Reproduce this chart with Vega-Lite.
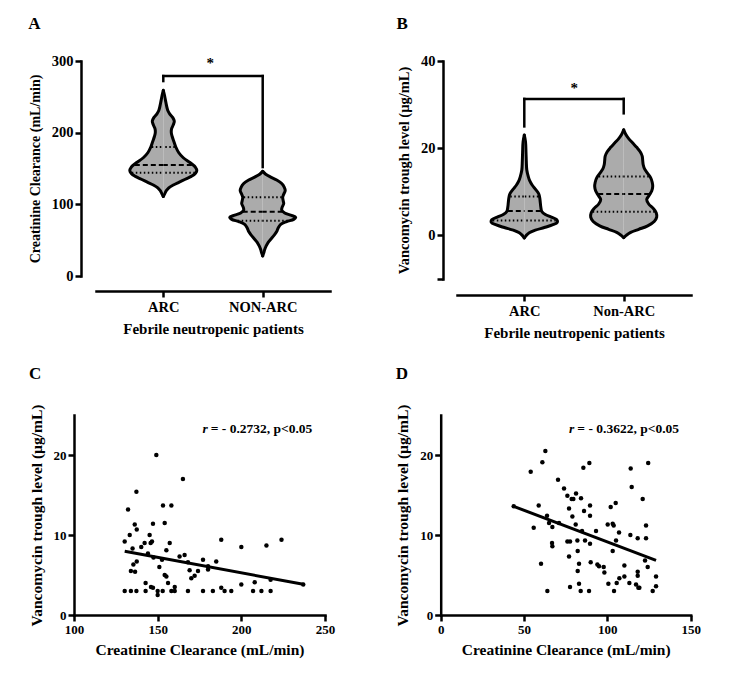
{
  "$schema": "https://vega.github.io/schema/vega-lite/v6.json",
  "padding": {"left": 28, "top": 15, "right": 5, "bottom": 5},
  "config": {
    "font": "Liberation Serif",
    "view": {"stroke": null},
    "title": {"font": "Liberation Serif", "fontSize": 17, "fontWeight": "bold", "anchor": "start", "frame": "bounds", "offset": 20, "color": "black"},
    "axis": {"domainColor": "black", "domainWidth": 2.5, "domainCap": "square", "tickColor": "black", "tickWidth": 2.5, "tickSize": 6, "labelColor": "black", "labelFont": "Liberation Serif", "labelFontSize": 14.5, "labelFontWeight": "bold", "labelPadding": 2, "titleColor": "black", "titleFont": "Liberation Serif", "titleFontSize": 14.5, "titleFontWeight": "bold", "grid": false, "labelFlush": false, "labelOverlap": false}
  },
  "datasets": {
    "violins": [
      {"panel":"A","group":"ARC","value":259,"density":0},
      {"panel":"A","group":"ARC","value":252,"density":0.12},
      {"panel":"A","group":"ARC","value":245,"density":0.22},
      {"panel":"A","group":"ARC","value":238,"density":0.32},
      {"panel":"A","group":"ARC","value":231,"density":0.45},
      {"panel":"A","group":"ARC","value":226,"density":0.65},
      {"panel":"A","group":"ARC","value":221,"density":0.95},
      {"panel":"A","group":"ARC","value":216,"density":1.1},
      {"panel":"A","group":"ARC","value":211,"density":1.0},
      {"panel":"A","group":"ARC","value":205,"density":0.82},
      {"panel":"A","group":"ARC","value":200,"density":0.8},
      {"panel":"A","group":"ARC","value":195,"density":0.88},
      {"panel":"A","group":"ARC","value":188,"density":1.05},
      {"panel":"A","group":"ARC","value":180,"density":1.25},
      {"panel":"A","group":"ARC","value":172,"density":1.55},
      {"panel":"A","group":"ARC","value":165,"density":2.0},
      {"panel":"A","group":"ARC","value":158,"density":2.7},
      {"panel":"A","group":"ARC","value":152,"density":3.2},
      {"panel":"A","group":"ARC","value":147,"density":3.35},
      {"panel":"A","group":"ARC","value":143,"density":3.2},
      {"panel":"A","group":"ARC","value":139,"density":2.8},
      {"panel":"A","group":"ARC","value":135,"density":2.2},
      {"panel":"A","group":"ARC","value":131,"density":1.6},
      {"panel":"A","group":"ARC","value":127,"density":1.0},
      {"panel":"A","group":"ARC","value":123,"density":0.55},
      {"panel":"A","group":"ARC","value":119,"density":0.3},
      {"panel":"A","group":"ARC","value":115,"density":0.15},
      {"panel":"A","group":"ARC","value":111,"density":0},
      {"panel":"A","group":"NON","value":146,"density":0},
      {"panel":"A","group":"NON","value":142,"density":0.3},
      {"panel":"A","group":"NON","value":138,"density":0.8},
      {"panel":"A","group":"NON","value":134,"density":1.4},
      {"panel":"A","group":"NON","value":129,"density":1.9},
      {"panel":"A","group":"NON","value":124,"density":2.15},
      {"panel":"A","group":"NON","value":119,"density":2.25},
      {"panel":"A","group":"NON","value":114,"density":2.1},
      {"panel":"A","group":"NON","value":110,"density":2.0},
      {"panel":"A","group":"NON","value":105,"density":2.05},
      {"panel":"A","group":"NON","value":101,"density":2.1},
      {"panel":"A","group":"NON","value":96,"density":1.95},
      {"panel":"A","group":"NON","value":92,"density":1.9},
      {"panel":"A","group":"NON","value":88,"density":2.2},
      {"panel":"A","group":"NON","value":85,"density":2.8},
      {"panel":"A","group":"NON","value":82,"density":3.3},
      {"panel":"A","group":"NON","value":79,"density":3.1},
      {"panel":"A","group":"NON","value":76,"density":2.4},
      {"panel":"A","group":"NON","value":72,"density":1.8},
      {"panel":"A","group":"NON","value":67,"density":1.55},
      {"panel":"A","group":"NON","value":62,"density":1.4},
      {"panel":"A","group":"NON","value":57,"density":1.15},
      {"panel":"A","group":"NON","value":52,"density":0.85},
      {"panel":"A","group":"NON","value":47,"density":0.55},
      {"panel":"A","group":"NON","value":42,"density":0.35},
      {"panel":"A","group":"NON","value":37,"density":0.2},
      {"panel":"A","group":"NON","value":32,"density":0.1},
      {"panel":"A","group":"NON","value":28,"density":0},
      {"panel":"B","group":"ARC","value":23,"density":0},
      {"panel":"B","group":"ARC","value":21.5,"density":0.12},
      {"panel":"B","group":"ARC","value":19,"density":0.17},
      {"panel":"B","group":"ARC","value":17,"density":0.2},
      {"panel":"B","group":"ARC","value":15,"density":0.25},
      {"panel":"B","group":"ARC","value":13.5,"density":0.4},
      {"panel":"B","group":"ARC","value":12.5,"density":0.55},
      {"panel":"B","group":"ARC","value":11.5,"density":0.8},
      {"panel":"B","group":"ARC","value":10.5,"density":1.15},
      {"panel":"B","group":"ARC","value":9.5,"density":1.45},
      {"panel":"B","group":"ARC","value":8.5,"density":1.55},
      {"panel":"B","group":"ARC","value":7.5,"density":1.6},
      {"panel":"B","group":"ARC","value":6.5,"density":1.65},
      {"panel":"B","group":"ARC","value":5.5,"density":1.75},
      {"panel":"B","group":"ARC","value":4.8,"density":2.1},
      {"panel":"B","group":"ARC","value":4.2,"density":2.7},
      {"panel":"B","group":"ARC","value":3.6,"density":3.25},
      {"panel":"B","group":"ARC","value":3.0,"density":3.3},
      {"panel":"B","group":"ARC","value":2.4,"density":2.8},
      {"panel":"B","group":"ARC","value":1.8,"density":2.0},
      {"panel":"B","group":"ARC","value":1.2,"density":1.1},
      {"panel":"B","group":"ARC","value":0.6,"density":0.5},
      {"panel":"B","group":"ARC","value":0,"density":0.2},
      {"panel":"B","group":"ARC","value":-0.6,"density":0},
      {"panel":"B","group":"NON","value":24.2,"density":0},
      {"panel":"B","group":"NON","value":23.2,"density":0.2},
      {"panel":"B","group":"NON","value":22.2,"density":0.5},
      {"panel":"B","group":"NON","value":21.2,"density":0.9},
      {"panel":"B","group":"NON","value":20.2,"density":1.3},
      {"panel":"B","group":"NON","value":19.2,"density":1.65},
      {"panel":"B","group":"NON","value":18.2,"density":1.85},
      {"panel":"B","group":"NON","value":17.2,"density":1.9},
      {"panel":"B","group":"NON","value":16.2,"density":1.95},
      {"panel":"B","group":"NON","value":15.2,"density":2.1},
      {"panel":"B","group":"NON","value":14.2,"density":2.4},
      {"panel":"B","group":"NON","value":13.2,"density":2.7},
      {"panel":"B","group":"NON","value":12.2,"density":2.85},
      {"panel":"B","group":"NON","value":11.2,"density":2.9},
      {"panel":"B","group":"NON","value":10.2,"density":2.8},
      {"panel":"B","group":"NON","value":9.2,"density":2.55},
      {"panel":"B","group":"NON","value":8.2,"density":2.3},
      {"panel":"B","group":"NON","value":7.2,"density":2.5},
      {"panel":"B","group":"NON","value":6.2,"density":2.95},
      {"panel":"B","group":"NON","value":5.2,"density":3.25},
      {"panel":"B","group":"NON","value":4.2,"density":3.3},
      {"panel":"B","group":"NON","value":3.2,"density":3.05},
      {"panel":"B","group":"NON","value":2.2,"density":2.4},
      {"panel":"B","group":"NON","value":1.4,"density":1.5},
      {"panel":"B","group":"NON","value":0.7,"density":0.7},
      {"panel":"B","group":"NON","value":0,"density":0.25},
      {"panel":"B","group":"NON","value":-0.5,"density":0}
    ],
    "quartiles": [
      {"panel":"A","group":"ARC","stat":"quartile","value":180,"density":1.15},
      {"panel":"A","group":"ARC","stat":"median","value":155,"density":2.85},
      {"panel":"A","group":"ARC","stat":"quartile","value":144,"density":3.15},
      {"panel":"A","group":"NON","stat":"quartile","value":110,"density":1.9},
      {"panel":"A","group":"NON","stat":"median","value":89.5,"density":2.0},
      {"panel":"A","group":"NON","stat":"quartile","value":77,"density":2.5},
      {"panel":"B","group":"ARC","stat":"quartile","value":8.9,"density":1.4},
      {"panel":"B","group":"ARC","stat":"median","value":5.6,"density":1.65},
      {"panel":"B","group":"ARC","stat":"quartile","value":3.4,"density":3.15},
      {"panel":"B","group":"NON","stat":"quartile","value":13.5,"density":2.5},
      {"panel":"B","group":"NON","stat":"median","value":9.5,"density":2.55},
      {"panel":"B","group":"NON","stat":"quartile","value":5.4,"density":3.1}
    ],
    "arc_points": [
      {"crcl":130.3,"vanco":9.2},{"crcl":132.3,"vanco":13.2},{"crcl":133.3,"vanco":10.0},{"crcl":130.3,"vanco":3.0},
      {"crcl":134,"vanco":3.0},{"crcl":137.3,"vanco":3.0},{"crcl":137.3,"vanco":15.4},{"crcl":136.3,"vanco":11.3},
      {"crcl":137.5,"vanco":10.7},{"crcl":135,"vanco":8.3},{"crcl":135.5,"vanco":6.3},{"crcl":137.5,"vanco":6.7},
      {"crcl":134,"vanco":5.5},{"crcl":136.5,"vanco":5.4},{"crcl":140.2,"vanco":8.5},{"crcl":142.2,"vanco":9.0},
      {"crcl":144.2,"vanco":7.7},{"crcl":145.2,"vanco":10.0},{"crcl":145.8,"vanco":9.0},{"crcl":146.6,"vanco":9.2},
      {"crcl":147.2,"vanco":11.4},{"crcl":149.2,"vanco":20.0},{"crcl":142.8,"vanco":4.0},{"crcl":142.8,"vanco":3.0},
      {"crcl":146,"vanco":3.5},{"crcl":147.2,"vanco":3.4},{"crcl":150,"vanco":3.0},{"crcl":150,"vanco":2.5},
      {"crcl":153,"vanco":3.0},{"crcl":153.2,"vanco":13.7},{"crcl":154.2,"vanco":11.5},{"crcl":155.2,"vanco":8.1},
      {"crcl":157.2,"vanco":9.0},{"crcl":158.2,"vanco":13.7},{"crcl":151,"vanco":6.0},{"crcl":152.6,"vanco":6.9},
      {"crcl":154.2,"vanco":5.0},{"crcl":155.2,"vanco":4.8},{"crcl":156.2,"vanco":4.0},{"crcl":158.2,"vanco":3.0},
      {"crcl":160.2,"vanco":3.0},{"crcl":160.2,"vanco":3.5},{"crcl":165.1,"vanco":17.0},{"crcl":163.1,"vanco":7.3},
      {"crcl":166.1,"vanco":7.5},{"crcl":168.1,"vanco":6.6},{"crcl":169.1,"vanco":5.6},{"crcl":170.1,"vanco":4.6},
      {"crcl":172.1,"vanco":4.9},{"crcl":174.1,"vanco":5.5},{"crcl":168.1,"vanco":3.0},{"crcl":177.1,"vanco":6.9},
      {"crcl":177.1,"vanco":3.0},{"crcl":180.1,"vanco":6.1},{"crcl":180.1,"vanco":5.7},{"crcl":183,"vanco":3.0},
      {"crcl":185,"vanco":6.7},{"crcl":188,"vanco":9.4},{"crcl":188,"vanco":3.4},{"crcl":190,"vanco":3.0},
      {"crcl":194,"vanco":3.0},{"crcl":200,"vanco":8.5},{"crcl":200,"vanco":3.8},{"crcl":208,"vanco":4.1},
      {"crcl":207,"vanco":3.0},{"crcl":212,"vanco":3.0},{"crcl":215,"vanco":8.7},{"crcl":217.5,"vanco":4.4},
      {"crcl":217.5,"vanco":3.0},{"crcl":224,"vanco":9.4},{"crcl":237,"vanco":3.8},{"crcl":147.5,"vanco":7.2}
    ],
    "nonarc_points": [
      {"crcl":43.8,"vanco":13.6},{"crcl":54,"vanco":17.9},{"crcl":55.8,"vanco":10.9},{"crcl":58.8,"vanco":13.7},
      {"crcl":60.2,"vanco":6.4},{"crcl":61,"vanco":19.1},{"crcl":62.8,"vanco":20.5},{"crcl":63.8,"vanco":12.4},
      {"crcl":65,"vanco":11.5},{"crcl":64,"vanco":3.0},{"crcl":67,"vanco":11.0},{"crcl":66.8,"vanco":9.0},
      {"crcl":67,"vanco":8.6},{"crcl":70.4,"vanco":16.9},{"crcl":71,"vanco":11.5},{"crcl":74,"vanco":15.8},
      {"crcl":76,"vanco":14.9},{"crcl":77,"vanco":13.3},{"crcl":76,"vanco":9.2},{"crcl":77.6,"vanco":9.2},
      {"crcl":77,"vanco":7.3},{"crcl":77.6,"vanco":3.5},{"crcl":79,"vanco":12.3},{"crcl":78.6,"vanco":14.5},
      {"crcl":79.6,"vanco":14.5},{"crcl":81.2,"vanco":15.2},{"crcl":81,"vanco":11.3},{"crcl":82,"vanco":9.3},
      {"crcl":82.2,"vanco":8.0},{"crcl":82.2,"vanco":5.5},{"crcl":83,"vanco":6.4},{"crcl":83,"vanco":3.9},
      {"crcl":84.2,"vanco":14.6},{"crcl":84,"vanco":3.0},{"crcl":84.8,"vanco":10.5},{"crcl":85.6,"vanco":18.4},
      {"crcl":86,"vanco":13.0},{"crcl":86.6,"vanco":9.3},{"crcl":89.2,"vanco":19.0},{"crcl":89.6,"vanco":13.7},
      {"crcl":89.6,"vanco":12.4},{"crcl":89.6,"vanco":8.9},{"crcl":89,"vanco":3.0},{"crcl":90,"vanco":6.6},
      {"crcl":93.2,"vanco":10.5},{"crcl":94,"vanco":6.3},{"crcl":95,"vanco":6.1},{"crcl":97.8,"vanco":6.0},
      {"crcl":98.2,"vanco":5.3},{"crcl":100.2,"vanco":11.3},{"crcl":100.6,"vanco":3.9},{"crcl":102,"vanco":13.5},
      {"crcl":103.2,"vanco":11.4},{"crcl":103.8,"vanco":11.2},{"crcl":103.2,"vanco":8.0},{"crcl":104,"vanco":3.0},
      {"crcl":105,"vanco":14.0},{"crcl":105.2,"vanco":9.3},{"crcl":105.6,"vanco":4.0},{"crcl":107,"vanco":10.3},
      {"crcl":107.2,"vanco":4.6},{"crcl":110.2,"vanco":6.2},{"crcl":110.2,"vanco":4.8},{"crcl":113.2,"vanco":4.0},
      {"crcl":113.8,"vanco":10.0},{"crcl":114,"vanco":18.3},{"crcl":114.6,"vanco":16.0},{"crcl":117.2,"vanco":3.8},
      {"crcl":118.2,"vanco":9.6},{"crcl":118.2,"vanco":5.4},{"crcl":118.2,"vanco":4.9},{"crcl":118.6,"vanco":3.4},
      {"crcl":119.2,"vanco":3.4},{"crcl":121.2,"vanco":14.5},{"crcl":122.6,"vanco":6.8},{"crcl":124.5,"vanco":19.0},
      {"crcl":123.2,"vanco":11.2},{"crcl":123.2,"vanco":9.6},{"crcl":124.2,"vanco":6.0},{"crcl":127.2,"vanco":3.0},
      {"crcl":129.2,"vanco":4.8},{"crcl":129.2,"vanco":3.6}
    ]
  },
  "columns": 2,
  "bounds": "flush",
  "spacing": {"row": 136, "column": 127},
  "concat": [
    {
      "title": {"text": "A"},
      "width": 234,
      "height": 215,
      "layer": [
        {
          "data": {"values": [{}]},
          "layer": [
            {"mark": {"type": "rule", "color": "black", "strokeWidth": 2.5, "strokeCap": "square"},
             "encoding": {
               "x": {"datum": "ARC", "type": "nominal", "scale": {"type": "point", "domain": ["ARC", "NON-ARC"], "padding": 0.677},
                     "axis": {"offset": 15, "title": "Febrile neutropenic patients", "labelAngle": 0, "labelPadding": 3, "titlePadding": 8, "titleFontSize": 15}},
               "x2": {"datum": "NON-ARC"},
               "y": {"datum": 279, "type": "quantitative"}}},
            {"mark": {"type": "rule", "color": "black", "strokeWidth": 2.5, "strokeCap": "square"},
             "encoding": {"x": {"datum": "ARC", "type": "nominal"}, "y": {"datum": 272, "type": "quantitative"}, "y2": {"datum": 279}}},
            {"mark": {"type": "rule", "color": "black", "strokeWidth": 2.5, "strokeCap": "square"},
             "encoding": {"x": {"datum": "NON-ARC", "type": "nominal"}, "y": {"datum": 152, "type": "quantitative"}, "y2": {"datum": 279}}},
            {"mark": {"type": "text", "text": "*", "fontSize": 15, "fontWeight": "bold", "dx": 47, "baseline": "middle", "align": "center"},
             "encoding": {"x": {"datum": "ARC", "type": "nominal"}, "y": {"datum": 297, "type": "quantitative"}}}
          ]
        },
        {
          "data": {"name": "violins"},
          "transform": [{"filter": "datum.panel == 'A' && datum.group == 'ARC'"}],
          "layer": [
            {"mark": {"type": "area", "orient": "horizontal", "interpolate": "catmull-rom", "color": "#ababab", "opacity": 1},
             "encoding": {
               "y": {"field": "value", "type": "quantitative", "scale": {"domain": [0, 300], "nice": false}, "axis": {"values": [0, 100, 200, 300], "offset": 15, "title": "Creatinine Clearance (mL/min)", "titleFontSize": 14, "titlePadding": 9}},
               "x": {"field": "density", "type": "quantitative", "scale": {"domain": [-6.73, 16.67], "nice": false, "zero": false}, "axis": null},
               "x2": {"datum": 0}}},
            {"data": {"name": "quartiles"},
             "transform": [{"filter": "datum.panel == 'A' && datum.group == 'ARC'"}],
             "mark": {"type": "rule", "color": "black", "strokeWidth": 2},
             "encoding": {
               "y": {"field": "value", "type": "quantitative"},
               "x": {"field": "density", "type": "quantitative", "axis": null},
               "x2": {"datum": 0},
               "strokeDash": {"field": "stat", "type": "nominal", "scale": {"domain": ["median", "quartile"], "range": [[5, 3], [1.5, 2.5]]}, "legend": null}}},
            {"mark": {"type": "line", "interpolate": "catmull-rom", "color": "black", "strokeWidth": 3, "strokeJoin": "round", "strokeCap": "round"},
             "encoding": {
               "y": {"field": "value", "type": "quantitative"},
               "x": {"field": "density", "type": "quantitative", "axis": null},
               "order": {"field": "value", "type": "quantitative"}}}
          ]
        },
        {
          "data": {"name": "violins"},
          "transform": [{"filter": "datum.panel == 'A' && datum.group == 'ARC'"}],
          "layer": [
            {"mark": {"type": "area", "orient": "horizontal", "interpolate": "catmull-rom", "color": "#ababab", "opacity": 1},
             "encoding": {
               "y": {"field": "value", "type": "quantitative"},
               "x": {"field": "density", "type": "quantitative", "scale": {"domain": [-16.67, 6.73], "nice": false, "zero": false, "reverse": true}, "axis": null},
               "x2": {"datum": 0}}},
            {"data": {"name": "quartiles"},
             "transform": [{"filter": "datum.panel == 'A' && datum.group == 'ARC'"}],
             "mark": {"type": "rule", "color": "black", "strokeWidth": 2},
             "encoding": {
               "y": {"field": "value", "type": "quantitative"},
               "x": {"field": "density", "type": "quantitative", "axis": null},
               "x2": {"datum": 0},
               "strokeDash": {"field": "stat", "type": "nominal", "legend": null}}},
            {"mark": {"type": "line", "interpolate": "catmull-rom", "color": "black", "strokeWidth": 3, "strokeJoin": "round", "strokeCap": "round"},
             "encoding": {
               "y": {"field": "value", "type": "quantitative"},
               "x": {"field": "density", "type": "quantitative", "axis": null},
               "order": {"field": "value", "type": "quantitative"}}}
          ]
        },
        {
          "data": {"name": "violins"},
          "transform": [{"filter": "datum.panel == 'A' && datum.group == 'NON'"}],
          "layer": [
            {"mark": {"type": "area", "orient": "horizontal", "interpolate": "catmull-rom", "color": "#ababab", "opacity": 1},
             "encoding": {
               "y": {"field": "value", "type": "quantitative"},
               "x": {"field": "density", "type": "quantitative", "scale": {"domain": [-16.67, 6.73], "nice": false, "zero": false}, "axis": null},
               "x2": {"datum": 0}}},
            {"data": {"name": "quartiles"},
             "transform": [{"filter": "datum.panel == 'A' && datum.group == 'NON'"}],
             "mark": {"type": "rule", "color": "black", "strokeWidth": 2},
             "encoding": {
               "y": {"field": "value", "type": "quantitative"},
               "x": {"field": "density", "type": "quantitative", "axis": null},
               "x2": {"datum": 0},
               "strokeDash": {"field": "stat", "type": "nominal", "legend": null}}},
            {"mark": {"type": "line", "interpolate": "catmull-rom", "color": "black", "strokeWidth": 3, "strokeJoin": "round", "strokeCap": "round"},
             "encoding": {
               "y": {"field": "value", "type": "quantitative"},
               "x": {"field": "density", "type": "quantitative", "axis": null},
               "order": {"field": "value", "type": "quantitative"}}}
          ]
        },
        {
          "data": {"name": "violins"},
          "transform": [{"filter": "datum.panel == 'A' && datum.group == 'NON'"}],
          "layer": [
            {"mark": {"type": "area", "orient": "horizontal", "interpolate": "catmull-rom", "color": "#ababab", "opacity": 1},
             "encoding": {
               "y": {"field": "value", "type": "quantitative"},
               "x": {"field": "density", "type": "quantitative", "scale": {"domain": [-6.73, 16.67], "nice": false, "zero": false, "reverse": true}, "axis": null},
               "x2": {"datum": 0}}},
            {"data": {"name": "quartiles"},
             "transform": [{"filter": "datum.panel == 'A' && datum.group == 'NON'"}],
             "mark": {"type": "rule", "color": "black", "strokeWidth": 2},
             "encoding": {
               "y": {"field": "value", "type": "quantitative"},
               "x": {"field": "density", "type": "quantitative", "axis": null},
               "x2": {"datum": 0},
               "strokeDash": {"field": "stat", "type": "nominal", "legend": null}}},
            {"mark": {"type": "line", "interpolate": "catmull-rom", "color": "black", "strokeWidth": 3, "strokeJoin": "round", "strokeCap": "round"},
             "encoding": {
               "y": {"field": "value", "type": "quantitative"},
               "x": {"field": "density", "type": "quantitative", "axis": null},
               "order": {"field": "value", "type": "quantitative"}}}
          ]
        }
      ],
      "resolve": {"scale": {"x": "independent"}}
    },
    {
      "title": {"text": "B"},
      "width": 234,
      "height": 218,
      "layer": [
        {
          "data": {"values": [{}]},
          "layer": [
            {"mark": {"type": "rule", "color": "black", "strokeWidth": 2.5, "strokeCap": "square"},
             "encoding": {
               "x": {"datum": "ARC", "type": "nominal", "scale": {"type": "point", "domain": ["ARC", "Non-ARC"], "padding": 0.677},
                     "axis": {"offset": 16, "title": "Febrile neutropenic patients", "labelAngle": 0, "labelPadding": 3, "titlePadding": 8, "titleFontSize": 15}},
               "x2": {"datum": "Non-ARC"},
               "y": {"datum": 31.3, "type": "quantitative"}}},
            {"mark": {"type": "rule", "color": "black", "strokeWidth": 2.5, "strokeCap": "square"},
             "encoding": {"x": {"datum": "ARC", "type": "nominal"}, "y": {"datum": 25, "type": "quantitative"}, "y2": {"datum": 31.3}}},
            {"mark": {"type": "rule", "color": "black", "strokeWidth": 2.5, "strokeCap": "square"},
             "encoding": {"x": {"datum": "Non-ARC", "type": "nominal"}, "y": {"datum": 28, "type": "quantitative"}, "y2": {"datum": 31.3}}},
            {"mark": {"type": "text", "text": "*", "fontSize": 15, "fontWeight": "bold", "dx": 50, "baseline": "middle", "align": "center"},
             "encoding": {"x": {"datum": "ARC", "type": "nominal"}, "y": {"datum": 33.8, "type": "quantitative"}}}
          ]
        },
        {
          "data": {"name": "violins"},
          "transform": [{"filter": "datum.panel == 'B' && datum.group == 'ARC'"}],
          "layer": [
            {"mark": {"type": "area", "orient": "horizontal", "interpolate": "catmull-rom", "color": "#ababab", "opacity": 1},
             "encoding": {
               "y": {"field": "value", "type": "quantitative", "scale": {"domain": [-10, 40], "nice": false, "zero": false}, "axis": {"values": [-10, 0, 20, 40], "labelExpr": "datum.value == -10 ? '' : datum.label", "offset": 14, "title": "Vancomycin trough level (µg/mL)", "titlePadding": 9}},
               "x": {"field": "density", "type": "quantitative", "scale": {"domain": [-6.73, 16.67], "nice": false, "zero": false}, "axis": null},
               "x2": {"datum": 0}}},
            {"data": {"name": "quartiles"},
             "transform": [{"filter": "datum.panel == 'B' && datum.group == 'ARC'"}],
             "mark": {"type": "rule", "color": "black", "strokeWidth": 2},
             "encoding": {
               "y": {"field": "value", "type": "quantitative"},
               "x": {"field": "density", "type": "quantitative", "axis": null},
               "x2": {"datum": 0},
               "strokeDash": {"field": "stat", "type": "nominal", "scale": {"domain": ["median", "quartile"], "range": [[5, 3], [1.5, 2.5]]}, "legend": null}}},
            {"mark": {"type": "line", "interpolate": "catmull-rom", "color": "black", "strokeWidth": 3, "strokeJoin": "round", "strokeCap": "round"},
             "encoding": {
               "y": {"field": "value", "type": "quantitative"},
               "x": {"field": "density", "type": "quantitative", "axis": null},
               "order": {"field": "value", "type": "quantitative"}}}
          ]
        },
        {
          "data": {"name": "violins"},
          "transform": [{"filter": "datum.panel == 'B' && datum.group == 'ARC'"}],
          "layer": [
            {"mark": {"type": "area", "orient": "horizontal", "interpolate": "catmull-rom", "color": "#ababab", "opacity": 1},
             "encoding": {
               "y": {"field": "value", "type": "quantitative"},
               "x": {"field": "density", "type": "quantitative", "scale": {"domain": [-16.67, 6.73], "nice": false, "zero": false, "reverse": true}, "axis": null},
               "x2": {"datum": 0}}},
            {"data": {"name": "quartiles"},
             "transform": [{"filter": "datum.panel == 'B' && datum.group == 'ARC'"}],
             "mark": {"type": "rule", "color": "black", "strokeWidth": 2},
             "encoding": {
               "y": {"field": "value", "type": "quantitative"},
               "x": {"field": "density", "type": "quantitative", "axis": null},
               "x2": {"datum": 0},
               "strokeDash": {"field": "stat", "type": "nominal", "legend": null}}},
            {"mark": {"type": "line", "interpolate": "catmull-rom", "color": "black", "strokeWidth": 3, "strokeJoin": "round", "strokeCap": "round"},
             "encoding": {
               "y": {"field": "value", "type": "quantitative"},
               "x": {"field": "density", "type": "quantitative", "axis": null},
               "order": {"field": "value", "type": "quantitative"}}}
          ]
        },
        {
          "data": {"name": "violins"},
          "transform": [{"filter": "datum.panel == 'B' && datum.group == 'NON'"}],
          "layer": [
            {"mark": {"type": "area", "orient": "horizontal", "interpolate": "catmull-rom", "color": "#ababab", "opacity": 1},
             "encoding": {
               "y": {"field": "value", "type": "quantitative"},
               "x": {"field": "density", "type": "quantitative", "scale": {"domain": [-16.67, 6.73], "nice": false, "zero": false}, "axis": null},
               "x2": {"datum": 0}}},
            {"data": {"name": "quartiles"},
             "transform": [{"filter": "datum.panel == 'B' && datum.group == 'NON'"}],
             "mark": {"type": "rule", "color": "black", "strokeWidth": 2},
             "encoding": {
               "y": {"field": "value", "type": "quantitative"},
               "x": {"field": "density", "type": "quantitative", "axis": null},
               "x2": {"datum": 0},
               "strokeDash": {"field": "stat", "type": "nominal", "legend": null}}},
            {"mark": {"type": "line", "interpolate": "catmull-rom", "color": "black", "strokeWidth": 3, "strokeJoin": "round", "strokeCap": "round"},
             "encoding": {
               "y": {"field": "value", "type": "quantitative"},
               "x": {"field": "density", "type": "quantitative", "axis": null},
               "order": {"field": "value", "type": "quantitative"}}}
          ]
        },
        {
          "data": {"name": "violins"},
          "transform": [{"filter": "datum.panel == 'B' && datum.group == 'NON'"}],
          "layer": [
            {"mark": {"type": "area", "orient": "horizontal", "interpolate": "catmull-rom", "color": "#ababab", "opacity": 1},
             "encoding": {
               "y": {"field": "value", "type": "quantitative"},
               "x": {"field": "density", "type": "quantitative", "scale": {"domain": [-6.73, 16.67], "nice": false, "zero": false, "reverse": true}, "axis": null},
               "x2": {"datum": 0}}},
            {"data": {"name": "quartiles"},
             "transform": [{"filter": "datum.panel == 'B' && datum.group == 'NON'"}],
             "mark": {"type": "rule", "color": "black", "strokeWidth": 2},
             "encoding": {
               "y": {"field": "value", "type": "quantitative"},
               "x": {"field": "density", "type": "quantitative", "axis": null},
               "x2": {"datum": 0},
               "strokeDash": {"field": "stat", "type": "nominal", "legend": null}}},
            {"mark": {"type": "line", "interpolate": "catmull-rom", "color": "black", "strokeWidth": 3, "strokeJoin": "round", "strokeCap": "round"},
             "encoding": {
               "y": {"field": "value", "type": "quantitative"},
               "x": {"field": "density", "type": "quantitative", "axis": null},
               "order": {"field": "value", "type": "quantitative"}}}
          ]
        }
      ],
      "resolve": {"scale": {"x": "independent"}}
    },
    {
      "title": {"text": "C", "offset": 21},
      "width": 229,
      "height": 200,
      "data": {"name": "arc_points"},
      "layer": [
        {"mark": {"type": "point", "filled": true, "color": "black", "size": 20, "opacity": 1},
         "encoding": {
           "x": {"field": "crcl", "type": "quantitative", "scale": {"domain": [100, 250], "range": [-22, 229], "nice": false, "zero": false}, "axis": {"values": [100, 150, 200, 250], "title": "Creatinine Clearance (mL/min)", "labelFontSize": 13, "titleFontSize": 15.5, "titlePadding": 6}},
           "y": {"field": "vanco", "type": "quantitative", "scale": {"domain": [0, 25], "nice": false}, "axis": {"values": [0, 5, 10, 15, 20, 25], "offset": 22, "title": "Vancomycin trough level (µg/mL)", "labelFontSize": 13, "titleFontSize": 15.5, "titlePadding": 9}}}},
        {"transform": [{"regression": "vanco", "on": "crcl"}],
         "mark": {"type": "line", "color": "black", "strokeWidth": 3},
         "encoding": {"x": {"field": "crcl", "type": "quantitative"}, "y": {"field": "vanco", "type": "quantitative"}}},
        {"data": {"values": [{}]},
         "mark": {"type": "text", "text": "= - 0.2732, p<0.05", "align": "left", "baseline": "middle", "fontSize": 13.5, "fontWeight": "bold"},
         "encoding": {"x": {"datum": 181.7, "type": "quantitative"}, "y": {"datum": 23.3, "type": "quantitative"}}},
        {"data": {"values": [{}]},
         "mark": {"type": "text", "text": "r", "align": "right", "dx": -3, "baseline": "middle", "fontSize": 13.5, "fontWeight": "bold", "fontStyle": "italic"},
         "encoding": {"x": {"datum": 181.7, "type": "quantitative"}, "y": {"datum": 23.3, "type": "quantitative"}}}
      ]
    },
    {
      "title": {"text": "D", "offset": 21},
      "width": 234,
      "height": 200,
      "data": {"name": "nonarc_points"},
      "layer": [
        {"mark": {"type": "point", "filled": true, "color": "black", "size": 20, "opacity": 1},
         "encoding": {
           "x": {"field": "crcl", "type": "quantitative", "scale": {"domain": [0, 150], "range": [-16.3, 233.7], "nice": false}, "axis": {"values": [0, 50, 100, 150], "title": "Creatinine Clearance (mL/min)", "labelFontSize": 13, "titleFontSize": 15.5, "titlePadding": 6}},
           "y": {"field": "vanco", "type": "quantitative", "scale": {"domain": [0, 25], "nice": false}, "axis": {"values": [0, 5, 10, 15, 20, 25], "offset": 16.3, "title": "Vancomycin trough level (µg/mL)", "labelFontSize": 13, "titleFontSize": 15.5, "titlePadding": 9}}}},
        {"transform": [{"regression": "vanco", "on": "crcl"}],
         "mark": {"type": "line", "color": "black", "strokeWidth": 3},
         "encoding": {"x": {"field": "crcl", "type": "quantitative"}, "y": {"field": "vanco", "type": "quantitative"}}},
        {"data": {"values": [{}]},
         "mark": {"type": "text", "text": "= - 0.3622, p<0.05", "align": "left", "baseline": "middle", "fontSize": 13.5, "fontWeight": "bold"},
         "encoding": {"x": {"datum": 82, "type": "quantitative"}, "y": {"datum": 23.3, "type": "quantitative"}}},
        {"data": {"values": [{}]},
         "mark": {"type": "text", "text": "r", "align": "right", "dx": -3, "baseline": "middle", "fontSize": 13.5, "fontWeight": "bold", "fontStyle": "italic"},
         "encoding": {"x": {"datum": 82, "type": "quantitative"}, "y": {"datum": 23.3, "type": "quantitative"}}}
      ]
    }
  ]
}
